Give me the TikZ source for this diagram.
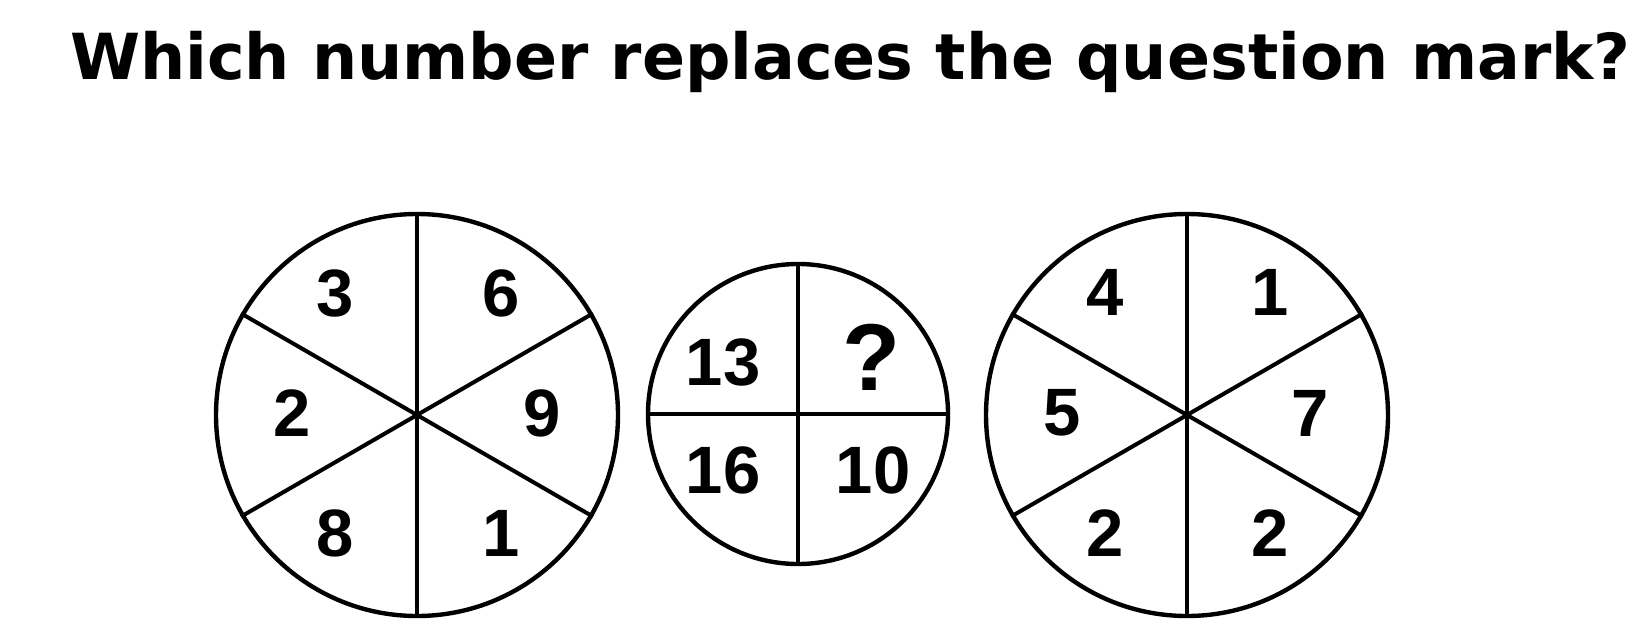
\documentclass[tikz,border=0pt]{standalone}
\usepackage{fontspec}
\setmainfont{Liberation Sans}
\newfontfamily\titlefont{DejaVu Sans}
\usetikzlibrary{calc}
\begin{document}
\begin{tikzpicture}[x=1pt,y=-1pt,
  wheel/.style={circle,draw=black,line width=4.4pt,inner sep=0pt,minimum size=#1},
  spoke/.style={draw=black,line width=4pt},
  num/.style={inner sep=0pt,font=\bfseries\fontsize{67}{67}\selectfont},
  qmark/.style={inner sep=0pt,font=\bfseries\fontsize{95}{95}\selectfont},
  title/.style={inner sep=0pt,anchor=base west,font=\titlefont\bfseries\fontsize{63.5}{63.5}\selectfont}]
\useasboundingbox[fill=white] (0,0) rectangle (1632,640);
\node[title] (T) at (70,79) {Which number replaces the question mark?};
% left wheel
\node[wheel=402pt] (L) at (417,415) {};
\foreach \a in {30,90,150,210,270,330} \draw[spoke] (L.center) -- (L.\a);
\node[num] (L1) at ($(L.center)+(-82,-122)$) {3};
\node[num] (L2) at ($(L.center)+(84,-122)$) {6};
\node[num] (L3) at ($(L.center)+(-125,-2)$) {2};
\node[num] (L4) at ($(L.center)+(125,-2)$) {9};
\node[num] (L5) at ($(L.center)+(-82,118)$) {8};
\node[num] (L6) at ($(L.center)+(84,118)$) {1};
% middle wheel
\node[wheel=300pt] (M) at (798,414) {};
\foreach \a in {0,90,180,270} \draw[spoke] (M.center) -- (M.\a);
\node[num] (M1) at ($(M.center)+(-75,-52)$) {13};
\node[qmark] (M2) at ($(M.center)+(74,-57)$) {?};
\node[num] (M3) at ($(M.center)+(-75,56)$) {16};
\node[num] (M4) at ($(M.center)+(75,56)$) {10};
% right wheel
\node[wheel=402pt] (R) at (1187,415) {};
\foreach \a in {30,90,150,210,270,330} \draw[spoke] (R.center) -- (R.\a);
\node[num] (R1) at ($(R.center)+(-82,-123)$) {4};
\node[num] (R2) at ($(R.center)+(83,-123)$) {1};
\node[num] (R3) at ($(R.center)+(-125,-2)$) {5};
\node[num] (R4) at ($(R.center)+(123,-2)$) {7};
\node[num] (R5) at ($(R.center)+(-82,118)$) {2};
\node[num] (R6) at ($(R.center)+(83,118)$) {2};
\end{tikzpicture}
\end{document}
